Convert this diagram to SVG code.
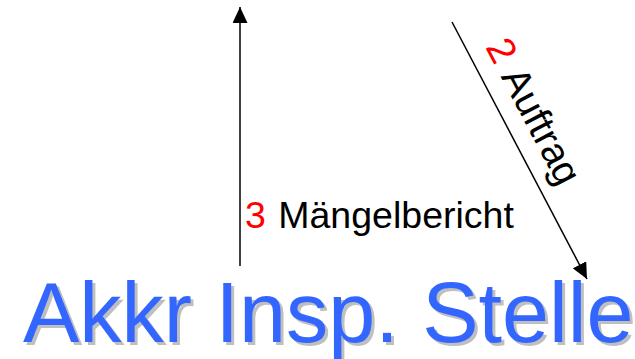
<svg xmlns="http://www.w3.org/2000/svg" width="635" height="359" viewBox="0 0 635 359">
<style>
.lbl{font-family:"Liberation Sans",Arial,sans-serif;font-size:37.5px;fill:#000}
.num{fill:#FF0000}
.big{font-family:"Liberation Sans",Arial,sans-serif;font-size:84.5px}
.conn{stroke:#000;stroke-width:1.5;fill:none}
</style>
<defs>
<marker id="arr" markerUnits="userSpaceOnUse" markerWidth="16" markerHeight="15" refX="16" refY="7.5" orient="auto">
<path d="M0,0 L16,7.5 L0,15 z" fill="#000"/>
</marker>
</defs>
<rect width="635" height="359" fill="#fff"/>
<g id="connectors">
<line class="conn" x1="240" y1="266" x2="240" y2="7" marker-end="url(#arr)"/>
<line class="conn" x1="452" y1="22" x2="587" y2="279" marker-end="url(#arr)"/>
</g>
<g id="label-maengelbericht">
<text class="lbl" x="245" y="228"><tspan class="num">3</tspan> <tspan dx="2">Mängelbericht</tspan></text>
</g>
<g id="label-auftrag">
<text class="lbl" style="font-size:39px" transform="translate(485,47) rotate(62.2)"><tspan class="num">2</tspan> <tspan dx="3">Auftrag</tspan></text>
</g>
<g id="node-akkr">
<text class="big" x="26" y="345" fill="#BFBFBF">Akkr Insp. Stelle</text>
<text class="big" x="23" y="342" fill="#3366FF">Akkr Insp. Stelle</text>
</g>
</svg>
